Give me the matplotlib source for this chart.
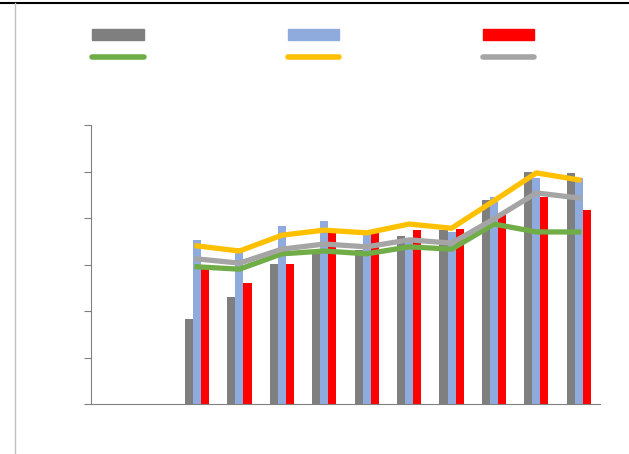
import matplotlib
matplotlib.use("Agg")
import matplotlib.pyplot as plt
import numpy as np
from matplotlib.lines import Line2D
from matplotlib.patches import Patch

categories = list(range(12))
data_idx = list(range(2, 12))
bar_gray = [1.83, 2.30, 3.01, 3.31, 3.31, 3.61, 3.74, 4.39, 4.99, 4.97]
bar_blue = [3.53, 3.35, 3.83, 3.94, 3.70, 3.53, 3.70, 4.45, 4.86, 4.86]
bar_red = [2.92, 2.60, 3.01, 3.70, 3.70, 3.74, 3.76, 4.11, 4.45, 4.17]
line_green = [2.95, 2.90, 3.23, 3.29, 3.23, 3.38, 3.33, 3.87, 3.70, 3.70]
line_yellow = [3.40, 3.29, 3.63, 3.74, 3.68, 3.87, 3.78, 4.37, 4.97, 4.82]
line_gray = [3.12, 3.03, 3.33, 3.44, 3.38, 3.53, 3.46, 3.98, 4.54, 4.43]

fig = plt.figure(figsize=(6.29, 4.54), dpi=100)
ax = fig.add_axes([91 / 629, 1 - 404 / 454, 509 / 629, 279 / 454])

x = np.array(data_idx, dtype=float)
w = 0.19
ax.bar(x - w, bar_gray, w, color="#7f7f7f")
ax.bar(x, bar_blue, w, color="#8faadc")
ax.bar(x + w, bar_red, w, color="#ff0000")
ax.plot(x, line_green, color="#70ad47", lw=3.8)
ax.plot(x, line_yellow, color="#ffc000", lw=3.8)
ax.plot(x, line_gray, color="#a5a5a5", lw=3.8)

ax.set_xlim(-0.5, 11.5)
ax.set_ylim(0, 6)
ax.set_yticks(range(7))
ax.set_yticklabels([])
ax.set_xticks([])
for s in ["top", "right"]:
    ax.spines[s].set_visible(False)
for s in ["left", "bottom"]:
    ax.spines[s].set_color("#808080")
ax.tick_params(axis="y", direction="out", length=5, color="#808080")

# legend is filled column by column: (bar, line) per column
handles = [Patch(color="#7f7f7f"),
           Line2D([], [], color="#70ad47", lw=4, solid_capstyle="round"),
           Patch(color="#8faadc"),
           Line2D([], [], color="#ffc000", lw=4, solid_capstyle="round"),
           Patch(color="#ff0000"),
           Line2D([], [], color="#a5a5a5", lw=4, solid_capstyle="round")]
fig.legend(handles, [" "] * 6, ncol=3, loc="upper left", bbox_to_anchor=(0.127, 0.965),
           frameon=False, handlelength=3.7, handleheight=0.8, columnspacing=9.85,
           labelspacing=0.6, handletextpad=0.2)

fig.add_artist(Line2D([0, 1], [1 - 3 / 454] * 2, color="black", lw=1.5))
fig.add_artist(Line2D([15 / 629] * 2, [0, 1 - 3 / 454], color="#bfbfbf", lw=1))

fig.savefig("out.png")
